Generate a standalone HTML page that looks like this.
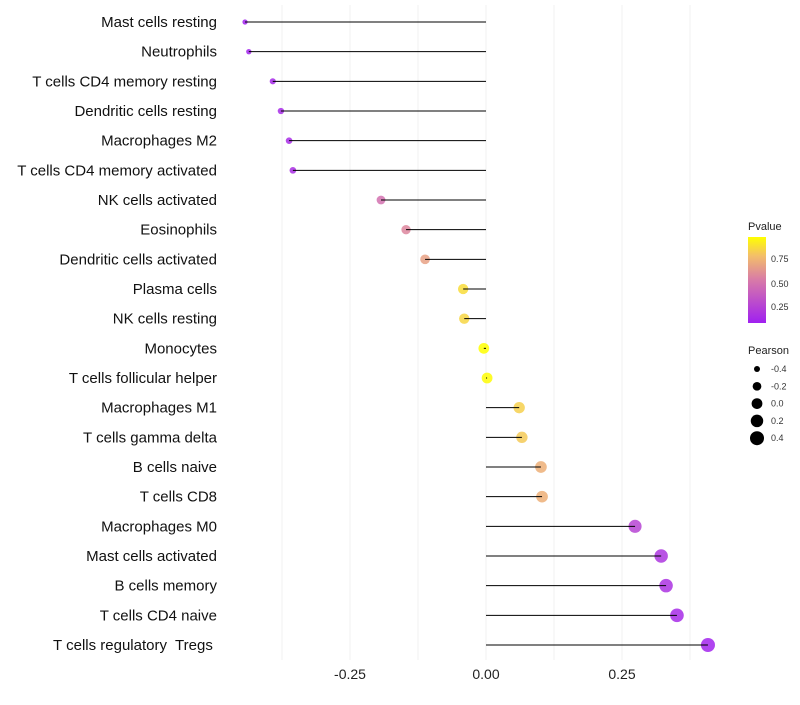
<!DOCTYPE html>
<html><head><meta charset="utf-8"><style>
body{margin:0;background:#fff;font-family:"Liberation Sans",sans-serif}
svg text{font-family:"Liberation Sans",sans-serif;white-space:pre}
</style></head><body>
<svg id="chart" width="800" height="700" xmlns="http://www.w3.org/2000/svg">
<defs><linearGradient id="pg" x1="0" y1="1" x2="0" y2="0">
<stop offset="0" stop-color="#A020F0"/><stop offset="0.5" stop-color="#D87AA8"/><stop offset="0.78" stop-color="#F3BE6A"/><stop offset="1" stop-color="#FFFF00"/></linearGradient></defs>
<g id="grid"></g><g id="marks"></g><g id="labels"></g>
<g>
<text x="748" y="230" font-size="11" fill="#222">Pvalue</text>
<rect x="748" y="237" width="18" height="86" fill="url(#pg)"/>
<text x="771" y="262" font-size="9" fill="#333">0.75</text>
<text x="771" y="287" font-size="9" fill="#333">0.50</text>
<text x="771" y="310" font-size="9" fill="#333">0.25</text>
</g>
<g id="sizeleg">
<text x="748" y="354" font-size="11" fill="#222">Pearson</text>
</g>
</svg>
<script>
const categories=["Mast cells resting","Neutrophils","T cells CD4 memory resting","Dendritic cells resting","Macrophages M2","T cells CD4 memory activated","NK cells activated","Eosinophils","Dendritic cells activated","Plasma cells","NK cells resting","Monocytes","T cells follicular helper","Macrophages M1","T cells gamma delta","B cells naive","T cells CD8","Macrophages M0","Mast cells activated","B cells memory","T cells CD4 naive","T cells regulatory  Tregs "];
const pearson=[-0.443,-0.436,-0.392,-0.377,-0.362,-0.355,-0.193,-0.147,-0.112,-0.042,-0.040,-0.004,0.002,0.061,0.066,0.101,0.103,0.274,0.322,0.331,0.351,0.408];
const pvalue=[0.01,0.02,0.05,0.06,0.07,0.08,0.45,0.55,0.66,0.88,0.86,1.0,0.99,0.84,0.82,0.72,0.72,0.2,0.12,0.1,0.06,0.02];
const xTicks=[-0.25,0,0.25];
const xTickLabels=["-0.25","0.00","0.25"];
const sizeLegend=[-0.4,-0.2,0,0.2,0.4];
const NS="http://www.w3.org/2000/svg";
const x=v=>486+v*544;
const y=i=>22+i*(623/21);
const r=v=>Math.sqrt(Math.max(1,29+50*v));
function lerp(a,b,t){return a.map((c,i)=>Math.round(c+(b[i]-c)*t));}
const stops=[[0,[160,32,240]],[0.5,[216,122,168]],[0.78,[243,190,106]],[1,[255,255,0]]];
function col(p){for(let k=1;k<stops.length;k++){if(p<=stops[k][0]){const t=(p-stops[k-1][0])/(stops[k][0]-stops[k-1][0]);return "rgb("+lerp(stops[k-1][1],stops[k][1],t).join(",")+")";}}return "rgb(255,255,0)";}
function mk(t,a,parent){const e=document.createElementNS(NS,t);for(const k in a)e.setAttribute(k,a[k]);parent.appendChild(e);return e;}
const grid=document.getElementById('grid'),marks=document.getElementById('marks'),labels=document.getElementById('labels');
[-0.375,-0.25,-0.125,0,0.125,0.25,0.375].forEach(v=>{const l=mk('line',{x1:x(v),x2:x(v),y1:5,y2:660,stroke:'#f2f2f2','stroke-width':1},grid);

});
xTicks.forEach((v,i)=>{const t=mk('text',{x:x(v),y:679,'font-size':14,'text-anchor':'middle',fill:'#222'},labels);t.textContent=xTickLabels[i];

});
categories.forEach((c,i)=>{
const t=mk('text',{x:217,y:y(i)+5,'font-size':15,'text-anchor':'end',fill:'#111'},labels);t.textContent=c;


const ci=mk('circle',{cx:x(pearson[i]),cy:y(i),r:r(pearson[i]),fill:col(pvalue[i]),'fill-opacity':0.85},marks);


const l=mk('line',{x1:x(0),x2:x(pearson[i]),y1:y(i),y2:y(i),stroke:'#000','stroke-width':1},marks);


});
const sl=document.getElementById('sizeleg');
sizeLegend.forEach((v,i)=>{const cy=369+i*17.3;
const c=mk('circle',{cx:757,cy:cy,r:r(v),fill:'#000'},sl);


const t=mk('text',{x:771,y:cy+3,'font-size':9,fill:'#333'},sl);t.textContent=v.toFixed(1);

});
</script>
</body></html>
